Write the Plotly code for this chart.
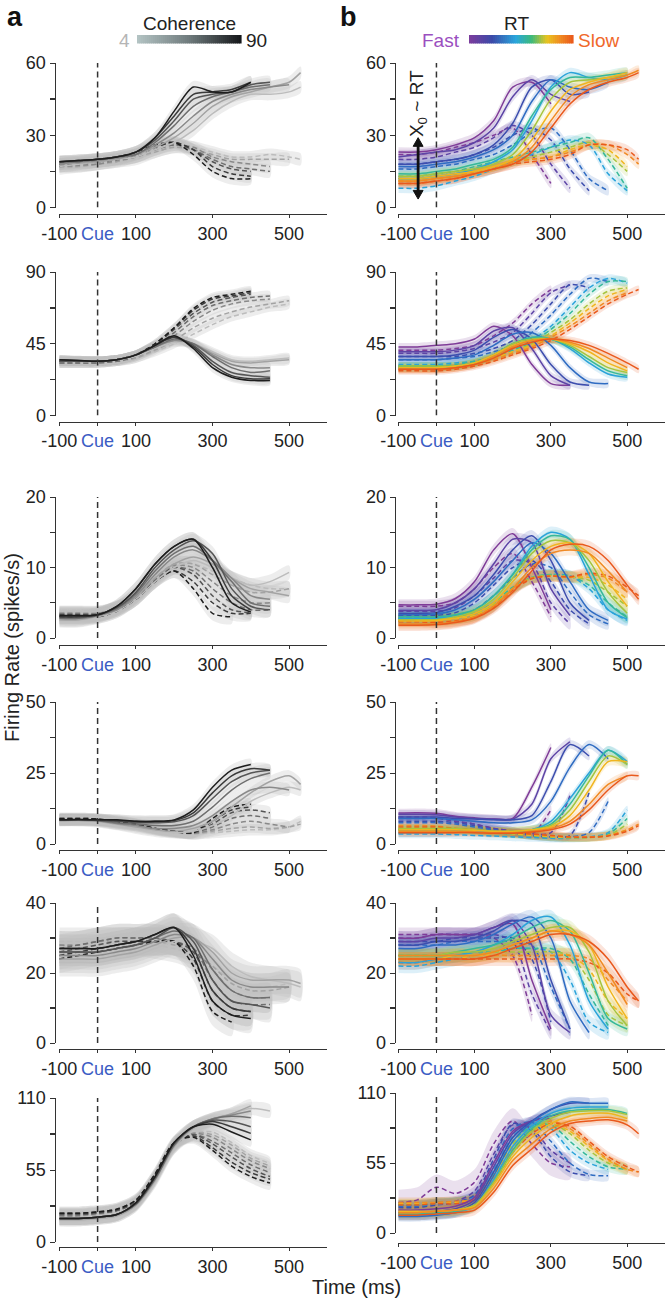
import plotly.graph_objects as go

# ---------------- data ----------------
T = [-100, -50, 0, 50, 100, 150, 200, 250, 300, 350, 400, 450, 500, 530]

Y_MAX = [60, 90, 20, 50, 40, 110]
Y_MID = [30, 45, 10, 25, 20, 55]

GRAYS = ['#1e1e1e', '#3a3a3a', '#555555', '#6f6f6f', '#898989', '#a3a3a3', '#bcbcbc']
RT_COLORS = ['#7f3c98', '#5d44a6', '#3d4eae', '#2f6cc2', '#2aa3da',
             '#36b89a', '#a6c43e', '#f0b51f', '#f08a23', '#e9591d']

A_BAND = [2.5, 3.0, 1.0, 2.0, 4.0, 5.0]
B_BAND = [2.0, 2.5, 0.8, 1.5, 2.0, 4.0]

# X0 ~ RT arrow (panel b, row 1): time and firing-rate ends
ARROW_T = -48
ARROW_Y = [3.5, 29]

A1_SOLID = [
    [19, 19.5, 20, 21, 23, 29, 40, 50, 48, 48, 52],
    [19, 19.5, 20, 21, 23, 29, 38, 47, 48, 49, 52],
    [19, 19.5, 20, 21, 23, 28, 36, 45, 47, 48, 51, 52],
    [19, 19, 20, 21, 22, 27, 34, 42, 46, 48, 50, 51],
    [18, 19, 19.5, 20.5, 22, 26, 31, 38, 44, 47, 49, 50, 51],
    [18, 18.5, 19, 20, 22, 25, 29, 35, 42, 46, 48, 50, 52, 56],
    [17, 18, 19, 20, 21, 24, 27, 32, 39, 44, 47, 47, 48, 50],
]
A1_DASHED = [
    [19, 19, 20, 21, 23, 26, 27, 22, 15, 12, 12],
    [18, 18.5, 19, 20, 22, 25, 27, 24, 17, 14, 13],
    [18, 18.5, 19, 20, 22, 25, 27, 24, 19, 16, 15],
    [17, 18, 19, 20, 21, 24, 26, 24, 20, 17, 16, 15],
    [17, 17.5, 18, 19.5, 21, 24, 26, 25, 21, 19, 18, 17],
    [17, 17, 18, 19, 21, 23, 25, 24, 22, 20, 20, 20, 20],
    [16, 17, 18, 19, 20, 23, 25, 25, 23, 21, 21, 22, 21, 20],
]
A2_SOLID = [
    [35, 34.5, 34, 35, 38, 44, 50, 42, 30, 24, 22, 22],
    [35, 34.5, 34, 35, 38, 44, 49, 43, 32, 25, 23, 23],
    [34, 34, 34, 35, 38, 44, 49, 44, 34, 27, 25, 24],
    [34, 34, 34, 35, 38, 43, 48, 45, 37, 30, 27, 28],
    [34, 34, 34, 35, 38, 43, 47, 45, 38, 32, 30, 30],
    [35, 34, 34, 35, 38, 43, 47, 45, 39, 34, 33, 34, 35],
    [35, 34, 34, 35, 37, 42, 46, 45, 40, 35, 34, 35, 36],
]
A2_DASHED = [
    [34, 34, 34, 35, 38, 45, 55, 67, 74, 76, 78],
    [34, 34, 34, 35, 38, 45, 55, 66, 73, 75, 77],
    [34, 34, 34, 35, 38, 44, 54, 64, 71, 74, 76],
    [33, 33, 33, 34, 37, 43, 52, 62, 69, 72, 74, 75],
    [33, 33, 33, 34, 37, 42, 50, 59, 66, 70, 72, 73],
    [33, 33, 33, 34, 36, 41, 47, 55, 61, 65, 68, 70, 72],
    [33, 33, 33, 34, 36, 40, 45, 51, 57, 62, 65, 68, 70],
]
A3_SOLID = [
    [3.2, 3.2, 3.3, 4.5, 7, 10.5, 13, 14, 10, 5, 3.7],
    [3, 3, 3.3, 4.5, 7, 10.5, 13, 14, 11, 6, 4],
    [3, 3, 3.3, 4.3, 6.5, 10, 12.5, 13.8, 12, 7, 4.5, 4],
    [2.8, 2.8, 3.2, 4.2, 6.3, 9.5, 12, 13, 11, 8, 5, 4.5],
    [2.8, 2.8, 3.2, 4, 6, 9, 11.5, 12.5, 11, 8.5, 6, 5.5],
    [2.6, 2.6, 3.1, 4, 5.8, 8.5, 10.5, 11.5, 10.5, 8.5, 7, 6.5, 6],
    [2.5, 2.5, 3, 3.8, 5.5, 8, 10, 11, 10, 8.5, 7.5, 8, 9.3],
]
A3_DASHED = [
    [3, 3, 3, 3.8, 5.5, 8, 9.5, 7, 3.5, 3],
    [3.2, 3.2, 3.2, 4, 5.5, 8, 9.5, 8, 5, 3.5, 3.5],
    [3.3, 3.3, 3.3, 4, 5.5, 8, 10, 9, 6, 4, 3.6],
    [3.4, 3.4, 3.4, 4.2, 5.8, 8.2, 10, 9.5, 7, 5, 4, 4],
    [3.5, 3.5, 3.5, 4.2, 5.8, 8.3, 10.3, 10, 8, 6, 5, 5],
    [3.5, 3.5, 3.5, 4.3, 6, 8.5, 10.5, 10.5, 9, 7.5, 6.5, 6.5, 7],
    [3.6, 3.6, 3.6, 4.3, 6, 8.5, 10.5, 10.5, 9.5, 8.5, 7.5, 7, 7],
]
A4_SOLID = [
    [8.5, 8.6, 8.5, 8.5, 8, 8, 8.5, 12, 20, 26, 28],
    [8.5, 8.6, 8.5, 8.3, 8, 8, 8.3, 11, 18, 24, 26.5, 26],
    [8.4, 8.5, 8.4, 8, 7.5, 7.5, 7.8, 10, 16, 22, 25, 26],
    [8.4, 8.5, 8.3, 7.5, 7, 6.5, 6.5, 8, 13, 19, 23, 25],
    [8.3, 8.4, 8.2, 7.2, 6.5, 5.5, 5.5, 6.5, 10, 15, 19, 20, 19],
    [8.3, 8.3, 8, 7, 6, 5, 4.5, 5.5, 8, 13, 18, 22, 24, 21],
    [8.2, 8.2, 7.8, 6.8, 5.5, 4.5, 4, 4.5, 6.5, 10, 15, 18, 20, 19],
]
A4_DASHED = [
    [9, 9, 8.8, 8, 7, 5.5, 4.5, 4, 9, 13, 14],
    [9, 9, 8.8, 8, 7, 5.5, 4.5, 4, 8, 12, 13],
    [8.8, 8.8, 8.6, 7.8, 7, 5.5, 4.5, 4, 7, 11, 12, 11],
    [8.8, 8.8, 8.6, 7.8, 6.8, 5.5, 4.5, 4, 6, 9, 10, 9],
    [8.6, 8.6, 8.4, 7.6, 6.8, 5.3, 4.3, 3.8, 5, 7, 8, 7, 6],
    [8.6, 8.6, 8.4, 7.5, 6.5, 5.2, 4.2, 3.6, 4.5, 5.5, 6, 5.5, 6, 7],
    [8.5, 8.5, 8.3, 7.5, 6.5, 5, 4, 3.5, 4, 4.5, 5, 5, 6, 8],
]
A5_SOLID = [
    [27, 27, 27, 28, 29, 31, 33, 25, 12, 8, 7],
    [27, 27, 27, 28, 29, 31, 33, 27, 15, 10, 9],
    [26, 26, 26, 27, 28, 30, 33, 29, 18, 12, 11, 10],
    [26, 26, 26, 27, 28, 30, 32, 30, 21, 15, 13, 13],
    [25, 25, 25, 26, 27, 29, 31, 30, 24, 18, 16, 16, 16],
    [24, 24, 24, 25, 26, 28, 30, 30, 26, 20, 18, 18, 18, 17],
    [23, 23, 23, 24, 25, 27, 29, 29, 27, 22, 19, 18, 17, 16],
]
A5_DASHED = [
    [24, 25, 26, 27, 28, 29, 29, 22, 9, 6],
    [25, 26, 27, 28, 29, 29, 29, 24, 12, 8, 8],
    [26, 27, 28, 29, 29, 29, 29, 26, 15, 10, 9],
    [27, 28, 29, 30, 30, 30, 29, 27, 18, 12, 11, 11],
    [28, 28, 29, 30, 30, 30, 29, 27, 21, 15, 13, 13],
    [28, 28, 29, 29, 29, 29, 28, 26, 22, 17, 15, 15, 16],
    [29, 29, 29, 29, 29, 28, 27, 25, 22, 18, 16, 16, 17],
]
A6_SOLID = [
    [18, 18, 19, 21, 30, 50, 76, 88, 90, 84, 78],
    [18, 18, 19, 21, 30, 50, 76, 88, 92, 88, 83],
    [18, 18, 19, 21, 29, 49, 75, 88, 93, 92, 88],
    [18, 18, 19, 21, 29, 48, 74, 88, 94, 96, 95],
    [18, 18, 19, 21, 29, 48, 74, 88, 94, 97, 100],
    [17, 17, 18, 20, 28, 47, 73, 87, 94, 98, 104],
    [17, 17, 18, 20, 28, 46, 72, 86, 93, 98, 102, 100],
]
A6_DASHED = [
    [22, 22, 23, 25, 32, 52, 76, 80, 70, 58, 50, 45],
    [22, 22, 23, 25, 32, 52, 76, 81, 72, 61, 53, 48],
    [21, 21, 22, 24, 31, 51, 75, 82, 75, 65, 56, 50],
    [21, 21, 22, 24, 31, 50, 74, 82, 77, 68, 59, 53],
    [20, 20, 22, 24, 30, 50, 74, 83, 80, 71, 62, 56],
    [20, 20, 21, 24, 30, 49, 73, 83, 82, 74, 64, 58],
    [20, 20, 21, 23, 29, 48, 72, 83, 84, 76, 66, 60],
]

B1_SOLID = [
    [23, 23, 24, 26, 29, 36, 50, 52, 43],
    [21, 22, 23, 24, 27, 33, 46, 53, 47, 44],
    [18, 18, 19, 20, 22, 26, 35, 50, 53, 47, 48],
    [17, 17, 18, 19, 21, 24, 30, 44, 53, 50, 49, 52],
    [12, 12, 13, 14, 16, 19, 24, 36, 50, 56, 54, 53, 55],
    [14, 14, 15, 16, 18, 20, 25, 38, 49, 54, 54, 55, 56],
    [13, 13, 14, 15, 16, 18, 22, 32, 45, 52, 53, 54, 55],
    [12, 12, 13, 14, 15, 17, 20, 28, 40, 49, 52, 54, 56],
    [11, 11, 12, 13, 14, 16, 19, 25, 36, 46, 51, 53, 55, 57],
    [10, 10, 11, 12, 14, 16, 18, 23, 33, 43, 49, 52, 54, 56],
]
B1_DASHED = [
    [22, 22, 23, 25, 27, 30, 33, 22, 10],
    [20, 20, 21, 23, 25, 29, 34, 30, 18, 8],
    [18, 18, 19, 20, 22, 25, 30, 33, 28, 16, 7],
    [16, 16, 17, 18, 20, 22, 26, 31, 33, 24, 12, 7],
    [8, 8, 9, 11, 13, 16, 19, 22, 25, 28, 26, 14, 7],
    [13, 13, 14, 15, 17, 19, 21, 23, 25, 27, 29, 20, 8],
    [12, 12, 13, 14, 15, 17, 19, 21, 23, 25, 27, 22, 15],
    [11, 11, 12, 13, 15, 17, 19, 20, 21, 24, 26, 24, 17],
    [11, 11, 12, 13, 15, 17, 19, 20, 21, 23, 26, 26, 22, 18],
    [10, 10, 11, 12, 14, 16, 18, 19, 20, 22, 26, 26, 24, 20],
]
B2_SOLID = [
    [43, 43, 44, 45, 48, 56, 50, 32, 20, 19],
    [40, 40, 40, 41, 44, 53, 55, 42, 25, 19],
    [37, 37, 37, 38, 41, 49, 54, 48, 32, 21, 19],
    [35, 35, 35, 36, 38, 44, 51, 52, 44, 30, 21, 20],
    [30, 30, 30, 31, 33, 38, 45, 49, 48, 42, 33, 26, 24],
    [31, 31, 31, 31, 33, 38, 45, 49, 48, 43, 35, 28, 25],
    [31, 31, 31, 31, 33, 38, 45, 48, 48, 44, 37, 30, 27],
    [30, 30, 30, 31, 33, 38, 44, 47, 48, 45, 40, 33, 28],
    [29, 29, 29, 30, 32, 37, 43, 47, 48, 46, 42, 36, 30],
    [29, 29, 29, 30, 32, 36, 42, 46, 48, 47, 44, 39, 33, 29],
]
B2_DASHED = [
    [41, 41, 41, 42, 44, 50, 58, 70, 79],
    [39, 39, 39, 40, 42, 46, 52, 64, 77, 82],
    [37, 37, 37, 37, 39, 42, 47, 57, 70, 82, 80],
    [35, 35, 35, 36, 37, 40, 44, 52, 63, 76, 86, 84],
    [32, 32, 32, 33, 34, 37, 41, 47, 56, 68, 80, 86, 83],
    [31, 31, 31, 32, 34, 37, 41, 46, 54, 64, 76, 84, 84],
    [30, 30, 30, 31, 33, 36, 40, 45, 52, 60, 70, 78, 80],
    [30, 30, 30, 31, 33, 36, 40, 44, 50, 58, 67, 75, 79],
    [29, 29, 29, 30, 32, 35, 39, 43, 49, 56, 64, 72, 77],
    [28, 28, 28, 29, 31, 34, 38, 42, 47, 54, 62, 70, 76, 79],
]
B3_SOLID = [
    [4.7, 4.7, 4.8, 5.6, 8, 12.5, 14.8, 10, 4],
    [3.9, 3.9, 4, 5, 7, 10.5, 14, 13.5, 7, 3.2],
    [3.5, 3.5, 3.6, 4.5, 6, 9, 12.5, 14.5, 11, 5, 2.5],
    [3.3, 3.3, 3.4, 4, 5.5, 8, 11, 13.5, 12, 8, 4, 2.5],
    [2.8, 2.8, 2.8, 3.2, 4, 6, 9, 13, 15, 14, 9, 4, 2.7],
    [3, 3, 3, 3.3, 4, 6, 9, 12.5, 14.5, 14, 10, 5, 2.9],
    [2.6, 2.6, 2.6, 3, 3.8, 5.5, 8.5, 12, 13.8, 13.5, 11, 6.5, 3.5],
    [2.4, 2.4, 2.5, 2.8, 3.5, 5, 8, 11, 13, 13.5, 12, 8, 4.5],
    [2, 2, 2, 2.3, 3, 4.5, 7, 10, 12, 12.5, 12, 9.5, 6.5],
    [1.8, 1.8, 1.9, 2.2, 2.8, 4.2, 6.5, 9.5, 12.5, 13.3, 13, 11, 7.5, 5.5],
]
B3_DASHED = [
    [4.5, 4.5, 4.5, 5, 7, 10, 12, 8, 3],
    [3.8, 3.8, 3.8, 4.3, 6, 8.5, 11, 10.5, 5, 2],
    [3.2, 3.2, 3.2, 3.6, 5, 7.5, 10, 11, 8, 4, 2],
    [2.8, 2.8, 2.8, 3, 4, 6, 8.5, 10.5, 10, 6.5, 3.3, 2],
    [2.5, 2.5, 2.5, 2.7, 3.2, 4.5, 7, 8.5, 9, 8.8, 7, 4, 2.5],
    [2.8, 2.8, 2.8, 3, 3.5, 5, 7.2, 8.6, 9, 8.8, 7.5, 5, 3],
    [2.6, 2.6, 2.6, 2.8, 3.3, 4.8, 7, 8.5, 8.9, 8.7, 8.2, 6.5, 4.5],
    [2.5, 2.5, 2.5, 2.7, 3.2, 4.6, 7, 8.5, 8.8, 8.6, 8.6, 7.5, 5.5],
    [2.4, 2.4, 2.3, 2.5, 3, 4.5, 7, 8.5, 8.8, 8.6, 9, 8.5, 6.5],
    [2.3, 2.3, 2.2, 2.4, 2.9, 4.4, 6.8, 8.4, 8.8, 8.7, 9.2, 8.8, 7.2, 6],
]
B4_SOLID = [
    [10.9, 11, 10.8, 9.8, 9.2, 8.8, 9, 20, 34],
    [10.5, 10.5, 10.3, 9.5, 9, 8.8, 8.8, 14, 30, 36],
    [9.5, 9.5, 9.5, 9, 8.8, 8.5, 8.5, 10, 22, 35, 31],
    [9, 9, 9, 8.5, 8, 7.5, 7.5, 8.5, 15, 27, 35, 30],
    [4, 4, 4, 4.5, 4.5, 4, 4, 5, 8, 16, 25, 33, 29],
    [5, 5, 5, 5, 5, 4.5, 4.5, 5, 7, 14, 24, 33, 28],
    [5.5, 5.5, 5.5, 5.5, 5, 4.5, 4.5, 5, 6.5, 12, 22, 31, 28],
    [5, 5, 5, 5, 4.8, 4.5, 4.5, 5, 6, 10, 19, 29, 29],
    [4.5, 4.5, 4.5, 4.5, 4.3, 4, 4, 4.5, 5.5, 8, 14, 21, 24],
    [4, 4, 4, 4, 4, 3.8, 3.8, 4.2, 5, 7, 12, 19, 24, 24],
]
B4_DASHED = [
    [9.5, 9.5, 9.3, 8, 7, 5.5, 4.5, 3.5, 12],
    [9, 9, 9, 8, 7, 5.5, 4.5, 3.5, 4, 17],
    [8, 8, 8, 7.5, 6.5, 5, 4, 3, 2.5, 3, 18],
    [7.5, 7.5, 7.5, 7, 6, 5, 4, 3, 2.5, 2.5, 4, 15],
    [3.5, 3.5, 3.5, 3.3, 3, 2.8, 2.5, 2.3, 2, 2, 2.5, 4, 12],
    [5, 5, 5, 4.8, 4.5, 4, 3.5, 3, 2.5, 2.2, 2.3, 3.5, 9],
    [5.5, 5.5, 5.5, 5.2, 4.8, 4.2, 3.6, 3, 2.5, 2.2, 2.3, 3, 7],
    [5, 5, 5, 4.8, 4.6, 4.2, 3.6, 3.1, 2.6, 2.3, 2.3, 3, 5],
    [6.5, 6.5, 6.3, 5.5, 5, 4.5, 4, 3.5, 3, 2.5, 2.5, 3, 5, 7],
    [6, 6, 6, 5.5, 5, 4.5, 4, 3.5, 3, 2.5, 2.4, 2.8, 4.5, 6.5],
]
B5_SOLID = [
    [30, 30, 31, 31, 31, 33, 34, 18, 4],
    [29, 29, 30, 30, 31, 33, 35, 28, 8, 3],
    [28, 28, 29, 29, 30, 32, 35, 34, 18, 4],
    [27, 27, 28, 28, 29, 31, 34, 36, 30, 12, 3],
    [23, 23, 24, 25, 26, 28, 31, 35, 36, 28, 12, 4],
    [25, 25, 25, 26, 27, 28, 30, 33, 35, 32, 20, 7, 4],
    [25, 25, 25, 26, 26, 27, 29, 31, 33, 33, 26, 12, 5],
    [24, 24, 24, 25, 25, 26, 28, 30, 32, 32, 28, 16, 7],
    [25, 25, 25, 25, 25, 26, 28, 30, 32, 31, 28, 20, 11],
    [24, 24, 24, 24, 24, 25, 27, 29, 31, 31, 29, 24, 16, 12],
]
B5_DASHED = [
    [31, 31, 31, 31, 31, 30, 25, 8],
    [30, 30, 31, 31, 31, 31, 29, 14, 3],
    [29, 29, 29, 30, 30, 30, 30, 24, 6],
    [28, 28, 28, 29, 29, 29, 29, 28, 16, 4],
    [22, 22, 23, 24, 25, 26, 27, 27, 26, 18, 6, 3],
    [25, 25, 25, 25, 26, 26, 27, 27, 27, 24, 14, 5],
    [25, 25, 25, 25, 25, 26, 26, 26, 26, 25, 18, 8, 5],
    [24, 24, 24, 24, 25, 25, 25, 25, 25, 25, 21, 12, 7],
    [24, 24, 24, 24, 24, 25, 25, 25, 25, 25, 24, 18, 12],
    [23, 23, 24, 24, 24, 24, 24, 24, 24, 24, 23, 20, 14, 12],
]
B6_SOLID = [
    [18, 18, 19, 21, 28, 55, 80, 88, 90],
    [16, 16, 17, 19, 26, 52, 78, 88, 92, 95],
    [14, 14, 15, 17, 24, 48, 75, 88, 97, 102, 102],
    [13, 13, 14, 16, 22, 45, 72, 87, 97, 103, 102, 102],
    [14, 14, 15, 16, 21, 42, 68, 84, 94, 98, 99, 99],
    [15, 15, 16, 17, 21, 40, 65, 82, 92, 96, 97, 97, 94],
    [16, 16, 17, 18, 22, 40, 63, 80, 90, 95, 96, 96, 93],
    [17, 17, 17, 18, 21, 38, 60, 75, 86, 92, 94, 94, 90],
    [16, 16, 17, 18, 20, 35, 57, 70, 82, 88, 90, 91, 88],
    [14, 14, 15, 16, 18, 32, 53, 66, 79, 86, 88, 89, 85, 78],
]
B6_DASHED = [
    [24, 26, 36, 31, 40, 70, 88, 70, 55, 52],
    [22, 22, 24, 25, 33, 62, 85, 82, 65, 55],
    [20, 20, 22, 24, 30, 58, 86, 80, 60, 48, 45],
    [21, 21, 23, 24, 29, 55, 82, 87, 72, 55, 46, 45],
    [22, 22, 23, 24, 28, 50, 76, 86, 82, 65, 55, 50],
    [22, 22, 23, 24, 27, 47, 72, 84, 85, 72, 60, 52, 50],
    [23, 23, 24, 24, 27, 45, 70, 82, 86, 78, 65, 55, 50],
    [23, 23, 24, 24, 27, 44, 68, 80, 86, 80, 68, 57, 50],
    [24, 24, 24, 25, 27, 43, 66, 80, 88, 82, 70, 58, 50, 48],
    [22, 22, 23, 23, 26, 40, 63, 78, 86, 84, 72, 60, 52, 48],
]
B6_DASHED_BAND = [10, 4, 4, 4, 4, 4, 4, 4, 4, 4]

X_TICKS = [-100, 0, 100, 300, 500]
X_TICKTEXT = ["-100", '<span style="color:#3b5cc4">Cue</span>', "100", "300", "500"]

# ---------------- layout geometry (pixels) ----------------
W, H = 666, 1309
FONT = "Liberation Sans, Arial, sans-serif"


def px(x):
    return x / W


def py(y):
    return 1 - y / H


ROW_TOP_L = [63, 272, 497, 702, 903, 1098]
ROW_ZERO_L = [207.5, 415.5, 638, 844, 1043, 1242]
ROW_XAX_L = [214, 421.5, 645, 850, 1049, 1247]
ROW_TOP_R = [63, 272, 497, 702, 903, 1093]
ROW_ZERO_R = [207.5, 415.5, 638, 844, 1043, 1233]
ROW_XAX_R = [214, 421.5, 645, 850, 1049, 1243]

COL_X = [(59.3, 327.4, 54.5), (398.3, 665.3, 394.7)]  # x0, x1, yaxis pos


def hex_rgba(h, a):
    h = h.lstrip('#')
    return 'rgba(%d,%d,%d,%.3f)' % (int(h[0:2], 16), int(h[2:4], 16), int(h[4:6], 16), a)


def pts(vals):
    xs, ys = [], []
    for t, v in zip(T, vals):
        if v is not None:
            xs.append(t)
            ys.append(v)
    return xs, ys


fig = go.Figure()
layout = dict(
    width=W, height=H, margin=dict(l=0, r=0, t=0, b=0, autoexpand=False),
    paper_bgcolor='white', plot_bgcolor='white', showlegend=False,
    font=dict(family=FONT, size=18, color='#222222'),
)
shapes = []
annotations = []

A_SETS = [(A1_SOLID, A1_DASHED), (A2_SOLID, A2_DASHED), (A3_SOLID, A3_DASHED),
          (A4_SOLID, A4_DASHED), (A5_SOLID, A5_DASHED), (A6_SOLID, A6_DASHED)]
B_SETS = [(B1_SOLID, B1_DASHED), (B2_SOLID, B2_DASHED), (B3_SOLID, B3_DASHED),
          (B4_SOLID, B4_DASHED), (B5_SOLID, B5_DASHED), (B6_SOLID, B6_DASHED)]

for col in range(2):
    for row in range(6):
        k = col * 6 + row + 1
        xs_name = 'x' if k == 1 else 'x%d' % k
        ys_name = 'y' if k == 1 else 'y%d' % k
        xa_key = 'xaxis' if k == 1 else 'xaxis%d' % k
        ya_key = 'yaxis' if k == 1 else 'yaxis%d' % k
        x0, x1, ypos = COL_X[col]
        if col == 0:
            top, zero, xax = ROW_TOP_L[row], ROW_ZERO_L[row], ROW_XAX_L[row]
        else:
            top, zero, xax = ROW_TOP_R[row], ROW_ZERO_R[row], ROW_XAX_R[row]
        ymax = Y_MAX[row]
        layout[xa_key] = dict(
            domain=[px(x0), px(x1)], anchor='free', position=py(xax),
            range=[-100, 600], showgrid=False, zeroline=False, showline=True,
            linecolor='#333333', linewidth=1.3, ticks='outside', ticklen=3,
            tickcolor='#333333', tickvals=X_TICKS, ticktext=X_TICKTEXT,
            tickangle=0, automargin=False,
            tickfont=dict(size=18, color='#222222', family=FONT), fixedrange=True,
        )
        layout[ya_key] = dict(
            domain=[py(zero), py(top)], anchor='free', position=px(ypos),
            range=[0, ymax], showgrid=False, zeroline=False, showline=True,
            linecolor='#333333', linewidth=1.3, ticks='outside', ticklen=5,
            tickcolor='#333333', automargin=False,
            tickvals=[0, Y_MID[row], ymax],
            ticktext=['0', str(Y_MID[row]), str(ymax)],
            minor=dict(tickmode='array', tickvals=[ymax / 4, 3 * ymax / 4],
                       ticks='outside', ticklen=5, tickcolor='#333333', tickwidth=1.3),
            tickfont=dict(size=18, color='#222222', family=FONT), fixedrange=True,
        )
        shapes.append(dict(type='line', xref=xs_name, yref=ys_name, x0=0, x1=0,
                           y0=0, y1=ymax, line=dict(color='#333333', width=1.5, dash='6px,4px')))

        if col == 0:
            solid, dashed = A_SETS[row]
            colors = GRAYS
            band = A_BAND[row]
        else:
            solid, dashed = B_SETS[row]
            colors = RT_COLORS
            band = B_BAND[row]

        for kind, curves in (('d', dashed), ('s', solid)):
            for i, vals in enumerate(curves):
                xs, ys = pts(vals)
                w = band
                if col == 1 and row == 5 and kind == 'd':
                    w = B6_DASHED_BAND[i]
                if col == 0:
                    fc = 'rgba(190,190,190,0.28)'
                else:
                    fc = hex_rgba(colors[i], 0.16)
                bx = xs + xs[::-1]
                by = [v + w for v in ys] + [v - w for v in ys[::-1]]
                fig.add_trace(go.Scatter(x=bx, y=by, xaxis=xs_name, yaxis=ys_name,
                                         mode='lines', fill='toself', fillcolor=fc,
                                         line=dict(width=0, shape='spline', smoothing=0.8),
                                         hoverinfo='skip'))
        order = list(range(len(solid)))
        if col == 0:
            order = order[::-1]
        for i in order:
            xs, ys = pts(dashed[i])
            fig.add_trace(go.Scatter(x=xs, y=ys, xaxis=xs_name, yaxis=ys_name, mode='lines',
                                     line=dict(color=colors[i], width=1.5, dash='5px,3px',
                                               shape='spline', smoothing=0.8),
                                     hoverinfo='skip'))
        for i in order:
            xs, ys = pts(solid[i])
            fig.add_trace(go.Scatter(x=xs, y=ys, xaxis=xs_name, yaxis=ys_name, mode='lines',
                                     line=dict(color=colors[i], width=1.5,
                                               shape='spline', smoothing=0.8),
                                     hoverinfo='skip'))


def lerp_color(stops, f):
    for j in range(len(stops) - 1):
        p0, c0 = stops[j]
        p1, c1 = stops[j + 1]
        if p0 <= f <= p1:
            u = (f - p0) / (p1 - p0) if p1 > p0 else 0
            a = [int(c0[i:i + 2], 16) for i in (1, 3, 5)]
            b = [int(c1[i:i + 2], 16) for i in (1, 3, 5)]
            return 'rgb(%d,%d,%d)' % tuple(round(a[m] + (b[m] - a[m]) * u) for m in range(3))
    return stops[-1][1]


GRAY_STOPS = [(0, '#b4c4c4'), (0.5, '#6f7b7d'), (1, '#15171a')]
RT_STOPS = [(0, '#7d3c9c'), (0.22, '#3c4aa8'), (0.45, '#2aa6dc'), (0.6, '#3cba7c'),
            (0.75, '#e8c420'), (0.88, '#f08a22'), (1, '#e9581b')]

for (bx0, bx1, stops) in ((137, 241, GRAY_STOPS), (469, 573, RT_STOPS)):
    n = 52
    for j in range(n):
        f = (j + 0.5) / n
        xa = bx0 + (bx1 - bx0) * j / n
        xb = bx0 + (bx1 - bx0) * (j + 1) / n + 0.6
        shapes.append(dict(type='rect', xref='paper', yref='paper',
                           x0=px(xa), x1=px(xb), y0=py(43.5), y1=py(35),
                           line=dict(width=0), fillcolor=lerp_color(stops, f)))

# double arrow (X0 ~ RT) drawn as a line plus two triangular heads in panel b row 1
head_w = 13
head_h = 3.6
a_lo, a_hi = ARROW_Y
shapes.append(dict(type='line', xref='x7', yref='y7', x0=ARROW_T, x1=ARROW_T,
                   y0=a_lo + head_h * 0.8, y1=a_hi - head_h * 0.8,
                   line=dict(color='#111111', width=2.8)))
shapes.append(dict(type='path', xref='x7', yref='y7',
                   path='M %g,%g L %g,%g L %g,%g Z' % (ARROW_T - head_w, a_hi - head_h,
                                                       ARROW_T + head_w, a_hi - head_h,
                                                       ARROW_T, a_hi),
                   fillcolor='#111111', line=dict(color='#111111', width=1)))
shapes.append(dict(type='path', xref='x7', yref='y7',
                   path='M %g,%g L %g,%g L %g,%g Z' % (ARROW_T - head_w, a_lo + head_h,
                                                       ARROW_T + head_w, a_lo + head_h,
                                                       ARROW_T, a_lo),
                   fillcolor='#111111', line=dict(color='#111111', width=1)))


def ann(text, x, y, size=19, color='#222222', bold=False, angle=0, xanchor='center'):
    if bold:
        text = '<b>%s</b>' % text
    annotations.append(dict(text=text, x=px(x), y=py(y), xref='paper', yref='paper',
                            showarrow=False, xanchor=xanchor, yanchor='middle',
                            textangle=angle, font=dict(size=size, color=color, family=FONT)))


ann('a', 15, 17, size=27, color='#111111', bold=True)
ann('b', 348, 17, size=27, color='#111111', bold=True)
ann('Coherence', 189, 23)
ann('4', 124, 40, color='#b5b5b5')
ann('90', 256, 40)
ann('RT', 516, 23)
ann('Fast', 441, 40, color='#9b4fc0')
ann('Slow', 598, 40, color='#f0682a')
ann('Firing Rate (spikes/s)', 12, 648, size=20, angle=-90)
ann('Time (ms)', 356, 1287, size=20)

annotations.append(dict(x=ARROW_T, y=43, xref='x7', yref='y7', text='X<sub>0</sub> ~ RT',
                        showarrow=False, textangle=-90,
                        font=dict(size=19, color='#222222', family=FONT)))

layout['shapes'] = shapes
layout['annotations'] = annotations
fig.update_layout(**layout)
fig.write_html('out.html', config={'displayModeBar': False, 'staticPlot': True},
               post_script="document.body.style.margin='0px';document.body.style.overflow='hidden';")
